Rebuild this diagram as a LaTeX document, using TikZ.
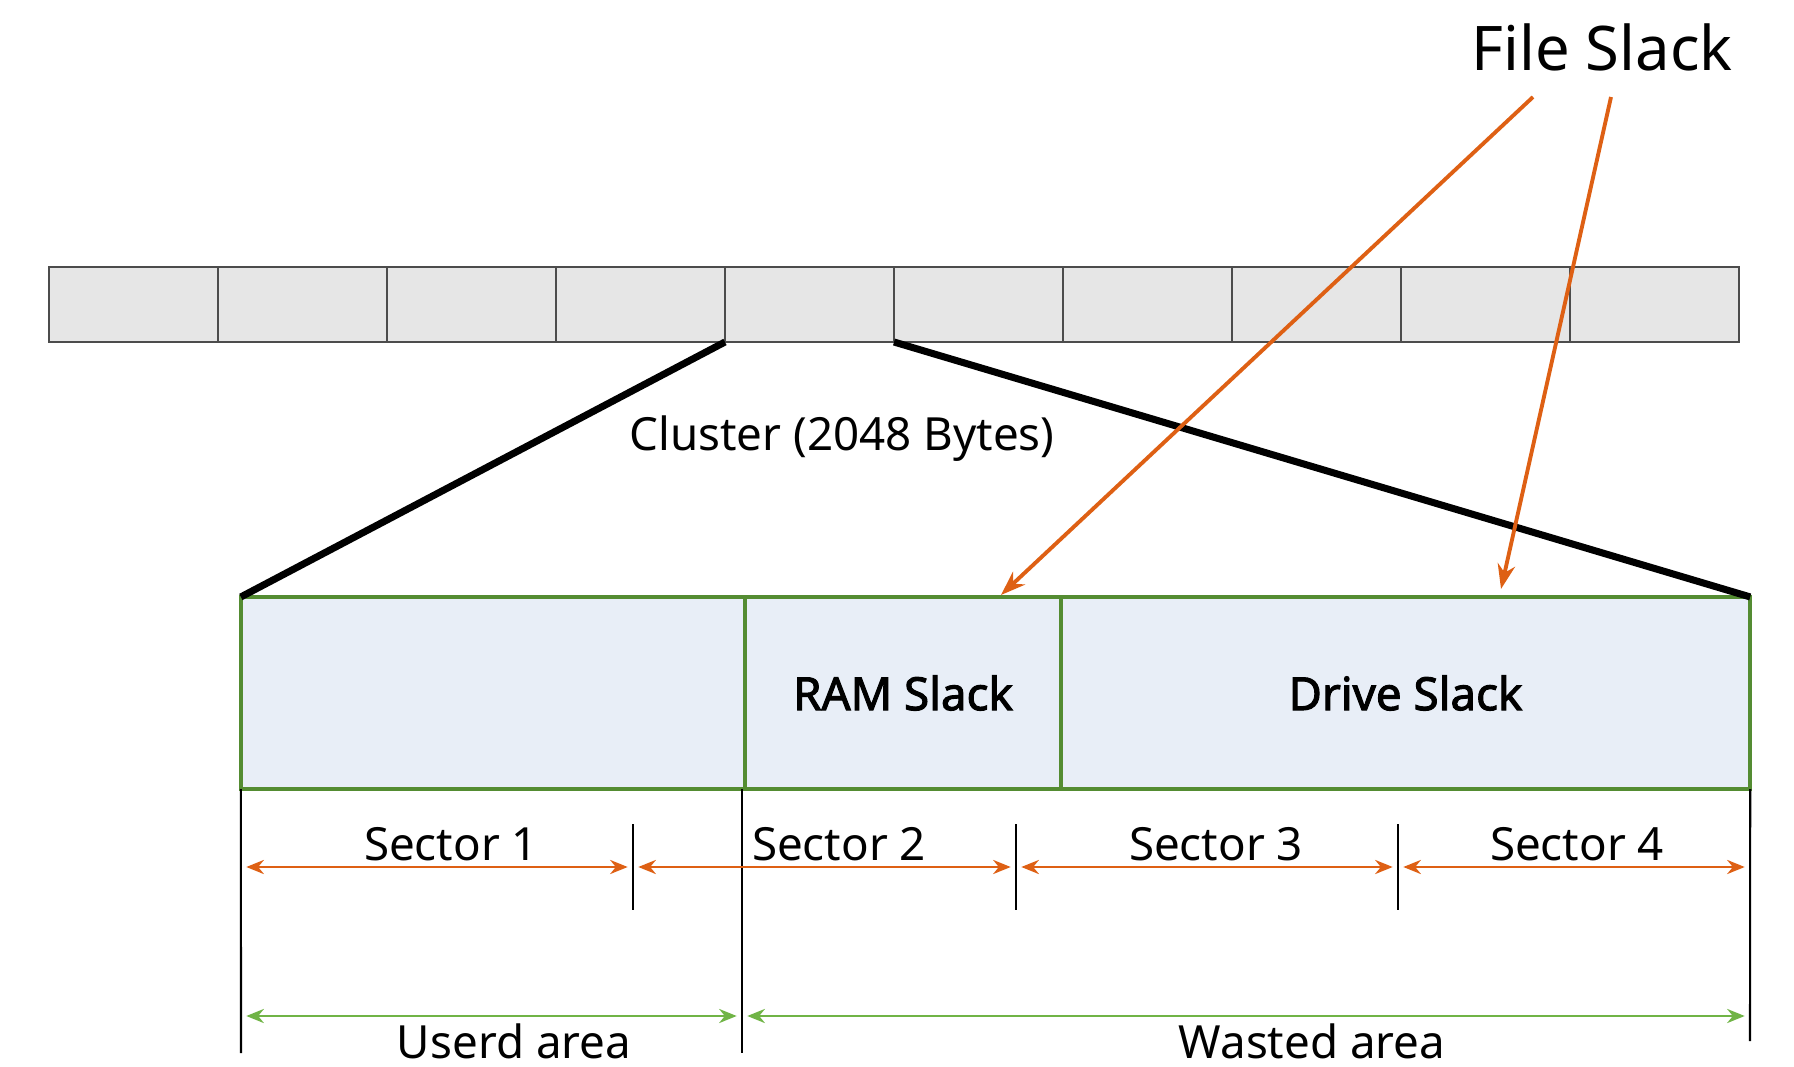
\documentclass[tikz,border=0pt]{standalone}
\usepackage{fontspec}
\setmainfont{Noto Sans}
\newfontfamily\slackbold{Noto Sans}[FakeBold=2.2]
\usetikzlibrary{arrows.meta}
\definecolor{orng}{RGB}{222,96,20}
\definecolor{grnb}{RGB}{84,140,50}
\definecolor{grna}{RGB}{112,180,70}
\definecolor{boxfill}{RGB}{232,238,247}
\definecolor{cellfill}{RGB}{230,230,230}
\begin{document}
\begin{tikzpicture}[x=0.01cm,y=-0.01cm,
 cell/.style={draw=black!70, line width=0.7pt, fill=cellfill, minimum width=1.69cm, minimum height=0.75cm, inner sep=0, outer sep=0},
 part/.style={draw=grnb, line width=1.1pt, fill=boxfill, minimum height=1.92cm, inner sep=0, outer sep=0, font=\slackbold\fontsize{13}{15}\selectfont},
 lbl/.style={font=\fontsize{13}{15}\selectfont, inner sep=0, anchor=base},
 zoomline/.style={line width=2pt, black},
 pointer/.style={orng, line width=1.1pt, -{Stealth[length=7pt,width=5pt]}},
 secdim/.style={orng, line width=0.8pt, {Stealth[length=5pt,width=4pt]}-{Stealth[length=5pt,width=4pt]}, shorten <=1.5pt, shorten >=1.5pt},
 areadim/.style={grna, line width=0.8pt, {Stealth[length=5pt,width=4pt]}-{Stealth[length=5pt,width=4pt]}, shorten <=1.5pt, shorten >=1.5pt},
 guide/.style={black, line width=0.6pt}
]
\useasboundingbox (0,0) rectangle (1794,1067);
% disk clusters
\foreach \i in {1,...,10} \node[cell] (c\i) at ({133.5+169*(\i-1)},304.5) {};
% cluster detail
\node[part, minimum width=5.04cm] (b1) at (493,693) {};
\node[part, minimum width=3.16cm] (b2) at (903,693) {RAM Slack};
\node[part, minimum width=6.89cm] (b3) at (1405.5,693) {Drive Slack};
\draw[zoomline] (c5.south west) -- (b1.north west);
\draw[zoomline] (c5.south east) -- (b3.north east);
\node[lbl] (cl) at (842,451) {Cluster (2048 Bytes)};
% file slack
\node[lbl, font=\fontsize{17.5}{20}\selectfont] (fs) at (1602,71) {File Slack};
\coordinate (p1) at (1533,97);
\coordinate (p2) at (1611,97);
\coordinate (t1) at (1001,595);
\coordinate (t2) at (1501,589);
\draw[pointer] (p1) -- (t1);
\draw[pointer] (p2) -- (t2);
% guides
\coordinate (g0) at (241,1053);
\coordinate (g1t) at (742,789);
\coordinate (g1) at (742,1053);
\coordinate (g2) at (1750,1041);
\draw[guide] (b1.south west) -- (g0);
\draw[guide] (g1t) -- (g1);
\draw[guide] (b3.south east) -- (g2);
\foreach \x/\n in {633/1,1016/2,1398/3} {
  \coordinate (tk\n a) at (\x,824);
  \coordinate (tk\n b) at (\x,910);
  \draw[guide] (tk\n a) -- (tk\n b);
}
% sector dimensions
\coordinate (k0) at (241,867);
\coordinate (k1) at (633,867);
\coordinate (k2) at (1016,867);
\coordinate (k3) at (1398,867);
\coordinate (k4) at (1750,867);
\draw[secdim] (k0) -- (k1);
\draw[secdim] (k1) -- (k2);
\draw[secdim] (k2) -- (k3);
\draw[secdim] (k3) -- (k4);
\node[lbl] (s1) at (451,860) {Sector 1};
\node[lbl] (s2) at (839,860) {Sector 2};
\node[lbl] (s3) at (1216,860) {Sector 3};
\node[lbl] (s4) at (1577,860) {Sector 4};
% area dimensions
\coordinate (a0) at (241,1016);
\coordinate (a1) at (742,1016);
\coordinate (a2) at (1750,1016);
\draw[areadim] (a0) -- (a1);
\draw[areadim] (a1) -- (a2);
\node[lbl] (ua) at (514,1058) {Userd area};
\node[lbl] (wa) at (1312,1058) {Wasted area};
\end{tikzpicture}
\end{document}
